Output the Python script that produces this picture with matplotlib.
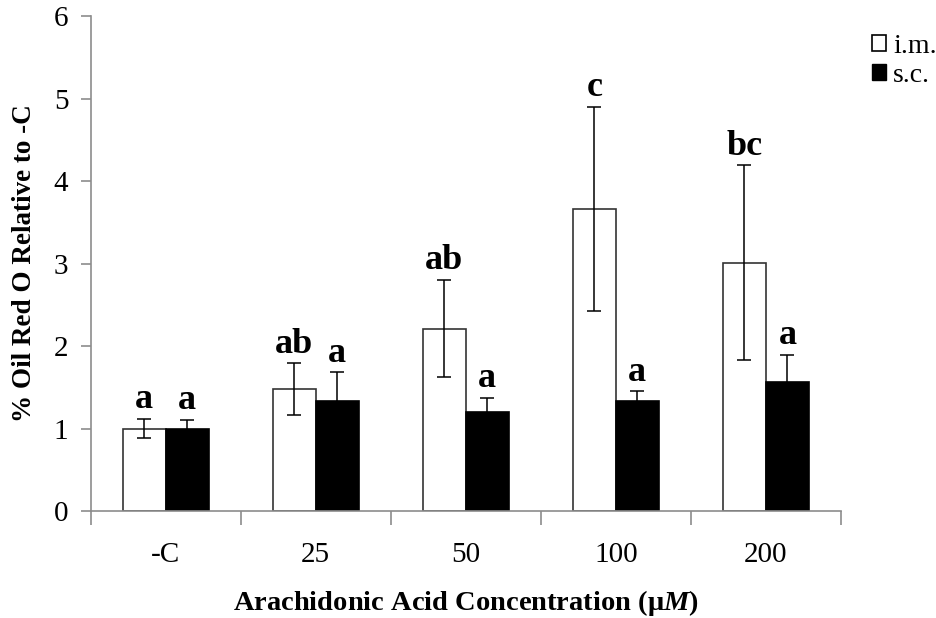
import numpy as np
import matplotlib
matplotlib.use('Agg')
import matplotlib.pyplot as plt
from matplotlib.patches import Patch

plt.rcParams['font.family'] = ['Liberation Serif', 'DejaVu Serif']
plt.rcParams['mathtext.fontset'] = 'custom'
plt.rcParams['mathtext.it'] = 'Liberation Serif:italic:bold'
plt.rcParams['mathtext.rm'] = 'Liberation Serif:bold'

# 数据
categories = ['-C', '25', '50', '100', '200']
im_mean = [1.00, 1.48, 2.21, 3.66, 3.01]
im_err = [0.12, 0.31, 0.59, 1.24, 1.18]
sc_mean = [1.00, 1.34, 1.20, 1.33, 1.56]
sc_err = [0.11, 0.34, 0.17, 0.12, 0.33]
im_letters = ['a', 'ab', 'ab', 'c', 'bc']
sc_letters = ['a', 'a', 'a', 'a', 'a']

fig = plt.figure(figsize=(9.37, 6.18), dpi=100)
ax = fig.add_axes([0.0968, 0.173, 0.8007, 0.801])

x = np.arange(len(categories))
w = 0.287
grey = '#8c8c8c'

ax.bar(x - w / 2, im_mean, w, color='white', edgecolor='#333333', linewidth=1.2)
ax.bar(x + w / 2, sc_mean, w, color='black', edgecolor='black', linewidth=1.2)
ax.errorbar(x - w / 2, im_mean, yerr=im_err, fmt='none', ecolor='black',
            elinewidth=1.1, capsize=5, capthick=1.1)
ax.errorbar(x + w / 2, sc_mean, yerr=sc_err, fmt='none', ecolor='black',
            elinewidth=1.1, capsize=5, capthick=1.1)

# 显著性字母
for i in range(len(categories)):
    ax.annotate(im_letters[i], (x[i] - w / 2, im_mean[i] + im_err[i]),
                xytext=(0, 2), textcoords='offset points', ha='center',
                va='bottom', fontsize=26, fontweight='bold')
    ax.annotate(sc_letters[i], (x[i] + w / 2, sc_mean[i] + sc_err[i]),
                xytext=(0, 2), textcoords='offset points', ha='center',
                va='bottom', fontsize=26, fontweight='bold')

ax.set_xlim(-0.5, len(categories) - 0.5)
ax.set_ylim(0, 6)
ax.set_yticks(range(0, 7))
ax.tick_params(axis='y', labelsize=21, length=7, width=1.2, color=grey,
               pad=9, direction='out')
ax.set_xticks(np.arange(-0.5, len(categories)), labels=[])
ax.tick_params(axis='x', which='major', length=10, width=1.2, color=grey,
               direction='out')
ax.set_xticks(x, labels=categories, minor=True)
ax.tick_params(axis='x', which='minor', length=0, labelsize=21, pad=22)

for s in ['top', 'right']:
    ax.spines[s].set_visible(False)
for s in ['left', 'bottom']:
    ax.spines[s].set_color(grey)
    ax.spines[s].set_linewidth(1.2)

ax.set_xlabel('Arachidonic Acid Concentration (μ$\\mathit{M}$)',
              fontsize=20.5, fontweight='bold')
ax.xaxis.set_label_coords(0.5, -0.155)
ax.set_ylabel('% Oil Red O Relative to -C', fontsize=19.5, fontweight='bold')
ax.yaxis.set_label_coords(-0.071, 0.5)

handles = [Patch(facecolor='white', edgecolor='black', linewidth=1.2),
           Patch(facecolor='black', edgecolor='black')]
fig.legend(handles, ['i.m.', 's.c.'], loc='upper left',
           bbox_to_anchor=(0.931, 0.945), frameon=False, fontsize=20,
           handlelength=0.5, handleheight=0.5, handletextpad=0.25,
           labelspacing=0.15, borderaxespad=0, borderpad=0)

fig.savefig('out.png', dpi=100)
